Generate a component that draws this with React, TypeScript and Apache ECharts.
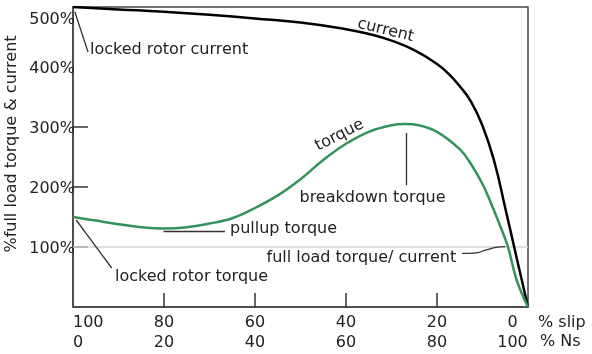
import React, { useEffect, useRef } from 'react';
import * as echarts from 'echarts';

// % slip (x) and % of full load (y)
const slipCurrent = [100, 90, 80, 70, 60, 50, 40, 35, 30, 25, 20, 17.5, 15, 12.5, 10, 7.5, 5, 2.5, 0];
const currentPct = [500, 496, 492, 487, 481, 474, 463, 455, 444, 428, 405, 389, 368, 342, 302, 245, 165, 82, 0];

const slipTorque = [100, 95, 90, 85, 80, 75, 70, 65, 60, 55, 50, 45, 40, 35, 30, 27, 24, 20, 15, 12.5, 10, 8.4, 6, 4.4, 2.5, 0];
const torquePct = [150, 144, 138, 133, 131, 133, 139, 148, 165, 186, 213, 245, 272, 292, 303, 305, 303, 292, 263, 238, 205, 178, 133, 100, 45, 0];

const slipTickValues = [20, 40, 60, 80];
const pctTickValues = [100, 200, 300];
const fullLoadPct = 100;

// leader lines, in (slip, %) data coordinates
const leaderLockedCurrent = [[99.6, 492], [96.7, 425]];
const leaderLockedTorque = [[99.3, 145], [91.5, 65]];
const leaderPullup = [[80.1, 126], [66.6, 126]];
const leaderBreakdown = [[26.8, 290], [26.8, 203]];
const leaderFullLoad = [[14.5, 89.5], [11.8, 89.8], [9.0, 95.5], [7.3, 98.8], [5.0, 100.5]];

const FONT = 'DejaVu Sans';
const TXT = '#222';
const GREEN = '#34935c';

export default function App() {
  const ref = useRef<HTMLDivElement>(null);
  useEffect(() => {
    const chart = echarts.init(ref.current!, null, { renderer: 'svg' });
    const zip = (xs: number[], ys: number[]) => xs.map((x, i) => [x, ys[i]]);
    const seg = (p: number[][]) => [{ coord: p[0] }, { coord: p[1] }];
    const txt = (text: string, x: number, y: number, align: string, rotation = 0) => ({
      type: 'text',
      x,
      y,
      rotation,
      silent: true,
      style: {
        text,
        fill: TXT,
        font: `16px "${FONT}"`,
        textAlign: align,
        textVerticalAlign: 'middle',
      },
    });
    chart.setOption({
      animation: false,
      grid: {
        left: 73,
        right: 64,
        top: 7,
        bottom: 47,
        containLabel: false,
        outerBoundsMode: 'none',
        show: true,
        borderColor: '#444',
        borderWidth: 1.5,
        backgroundColor: 'transparent',
      },
      xAxis: {
        type: 'value',
        inverse: true,
        min: 0,
        max: 100,
        interval: 20,
        axisLine: { onZero: false, lineStyle: { color: '#444', width: 1.5 } },
        axisTick: {
          show: true,
          inside: true,
          length: 14,
          customValues: slipTickValues,
          lineStyle: { color: '#333', width: 1.5 },
        },
        splitLine: { show: false },
        axisLabel: {
          margin: 4,
          fontSize: 16,
          fontFamily: FONT,
          color: TXT,
          lineHeight: 20,
          alignMinLabel: 'right',
          alignMaxLabel: 'left',
          formatter: (v: number) => (v === 0 ? '{c|0}\n{c|100}' : `${v}\n${100 - v}`),
          rich: {
            c: { width: 31, align: 'center', fontSize: 16, fontFamily: FONT, color: TXT, lineHeight: 20 },
          },
        },
      },
      yAxis: {
        type: 'value',
        min: 0,
        max: 500,
        interval: 100,
        axisLine: { show: true, onZero: false, lineStyle: { color: '#444', width: 1.5 } },
        axisTick: {
          show: true,
          inside: true,
          length: 15,
          customValues: pctTickValues,
          lineStyle: { color: '#333', width: 1.5 },
        },
        splitLine: { show: false },
        axisLabel: {
          margin: -2,
          fontSize: 16,
          fontFamily: FONT,
          color: TXT,
          lineHeight: 22,
          verticalAlignMaxLabel: 'top',
          formatter: (v: number) => (v === 0 ? '' : `${v}%`),
        },
        name: '%full load torque & current',
        nameLocation: 'middle',
        nameGap: 49,
        nameRotate: 90,
        nameTextStyle: { fontSize: 16, fontFamily: FONT, color: TXT, padding: [0, 0, 0, 26] },
      },
      series: [
        {
          name: 'current',
          type: 'line',
          data: zip(slipCurrent, currentPct),
          smooth: 0.5,
          symbol: 'none',
          z: 3,
          lineStyle: { color: '#000', width: 2.5 },
          markLine: {
            silent: true,
            symbol: ['none', 'none'],
            label: { show: false },
            lineStyle: { color: '#d4d4d4', width: 1.5, type: 'solid' },
            data: [{ yAxis: fullLoadPct }],
            z: 1,
          },
        },
        {
          name: 'torque',
          type: 'line',
          data: zip(slipTorque, torquePct),
          smooth: 0.4,
          symbol: 'none',
          z: 4,
          lineStyle: { color: GREEN, width: 2.5 },
        },
        {
          name: 'leaders',
          type: 'line',
          data: leaderFullLoad,
          smooth: 0.5,
          symbol: 'none',
          z: 2,
          lineStyle: { color: '#333', width: 1.3 },
          markLine: {
            silent: true,
            symbol: ['none', 'none'],
            label: { show: false },
            lineStyle: { color: '#333', width: 1.3, type: 'solid' },
            data: [
              seg(leaderLockedCurrent),
              seg(leaderLockedTorque),
              seg(leaderPullup),
              seg(leaderBreakdown),
            ],
          },
        },
      ],
      graphic: [
        txt('locked rotor current', 90, 48, 'left'),
        txt('current', 386, 29, 'center', -0.24),
        txt('torque', 339, 134, 'center', 0.47),
        txt('breakdown torque', 372.5, 196, 'center'),
        txt('pullup torque', 230, 227, 'left'),
        txt('full load torque/ current', 266.5, 256, 'left'),
        txt('locked rotor torque', 115, 275, 'left'),
        txt('% slip', 538, 321, 'left'),
        txt('% Ns', 540, 340, 'left'),
      ],
    });
    return () => chart.dispose();
  }, []);
  return <div ref={ref} style={{ position: 'fixed', left: 0, top: 0, width: 592, height: 354 }} />;
}
